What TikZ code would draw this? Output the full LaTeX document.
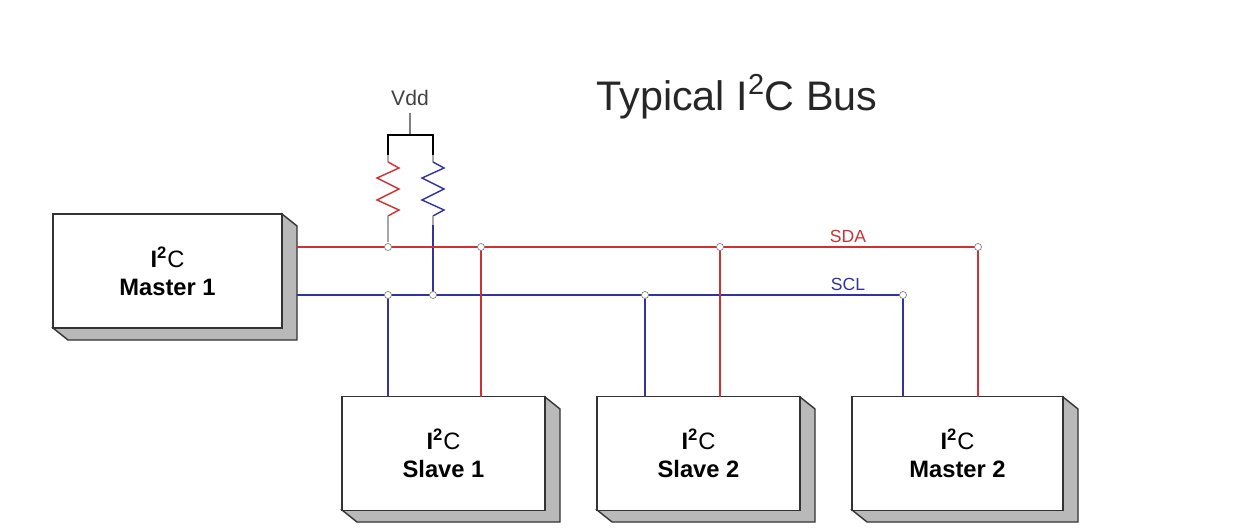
\documentclass[tikz,border=0pt]{standalone}
\usepackage{fontspec}
\setmainfont{Liberation Sans}
\definecolor{sred}{RGB}{205,50,50}
\definecolor{sblue}{RGB}{50,50,160}
\begin{document}
\begin{tikzpicture}[x=0.02cm,y=-0.02cm,
  box/.style={draw=black!80,line width=0.9pt,fill=white,minimum width=#1*0.02cm,minimum height=114*0.02cm,align=center,inner sep=0pt,font=\bfseries\fontsize{13.5}{16}\selectfont},
  red/.style={draw=sred,line width=0.8pt},
  blu/.style={draw=sblue,line width=0.8pt},
  dot/.style={circle,draw=gray,fill=white,inner sep=0pt,minimum size=4pt}]
\useasboundingbox (0,0) rectangle (1250,530);
% 3D sides
\foreach \a/\b/\c/\d in {53/282/214/328, 342/545/397/510, 597/800/397/510, 852/1063/397/510}{
  \filldraw[fill=gray!55,draw=black!80,line width=0.8pt] (\b,\c) -- (\b+15,\c+12) -- (\b+15,\d+12) -- (\a+15,\d+12) -- (\a,\d) -- (\b,\d) -- cycle;
}
\node[box=229] (m1) at (167.5,271) {I\textsuperscript{2}{\mdseries C}\\Master 1};
\node[box=203] (s1) at (443.5,453.5) {I\textsuperscript{2}{\mdseries C}\\Slave 1};
\node[box=203] (s2) at (698.5,453.5) {I\textsuperscript{2}{\mdseries C}\\Slave 2};
\node[box=211] (m2) at (957.5,453.5) {I\textsuperscript{2}{\mdseries C}\\Master 2};
% title
\node[font=\fontsize{23.5}{27}\selectfont,text=black!85] (title) at (737,97) {Typical I\textsuperscript{2}C Bus};
\node[font=\fontsize{12}{14}\selectfont,text=black!75] (vdd) at (410,98) {Vdd};
% coordinates
\coordinate (sdaS) at (297,247); \coordinate (sdaE) at (978,247);
\coordinate (sclS) at (297,295); \coordinate (sclE) at (903,295);
\coordinate (vtop) at (410,113); \coordinate (vb) at (410,135);
\coordinate (bl) at (388,135); \coordinate (br) at (433,135);
% Vdd bracket
\draw[gray,line width=0.8pt] (vtop) -- (vb);
\draw[black,line width=0.9pt] (388,155) -- (bl) -- (br) -- (433,155);
% resistors
\draw[gray!70,line width=0.7pt] (388,155) -- (388,162);
\draw[red] (388,162) -- (399,168) -- (377,178) -- (399,189) -- (377,200) -- (399,210) -- (388,216);
\draw[gray!70,line width=0.7pt] (388,216) -- (388,242);
\draw[gray!70,line width=0.7pt] (433,155) -- (433,162);
\draw[blu] (433,162) -- (444,168) -- (422,178) -- (444,189) -- (422,200) -- (444,210) -- (433,216);
\draw[gray!70,line width=0.7pt] (433,216) -- (433,225);
\draw[blu] (433,225) -- (433,295);
% buses
\draw[red] (sdaS) -- (sdaE) -- (978,397);
\draw[blu] (sclS) -- (sclE) -- (903,397);
\draw[blu] (388,295) -- (388,397);
\draw[red] (481,247) -- (481,397);
\draw[blu] (645,295) -- (645,397);
\draw[red] (720,247) -- (720,397);
\foreach \x in {388,481,720,978} \node[dot] at (\x,247) {};
\foreach \x in {388,433,645,903} \node[dot] at (\x,295) {};
\node[text=sred,font=\fontsize{10}{12}\selectfont] (sda) at (848,236) {SDA};
\node[text=sblue,font=\fontsize{10}{12}\selectfont] (scl) at (848,284) {SCL};
\end{tikzpicture}
\end{document}
